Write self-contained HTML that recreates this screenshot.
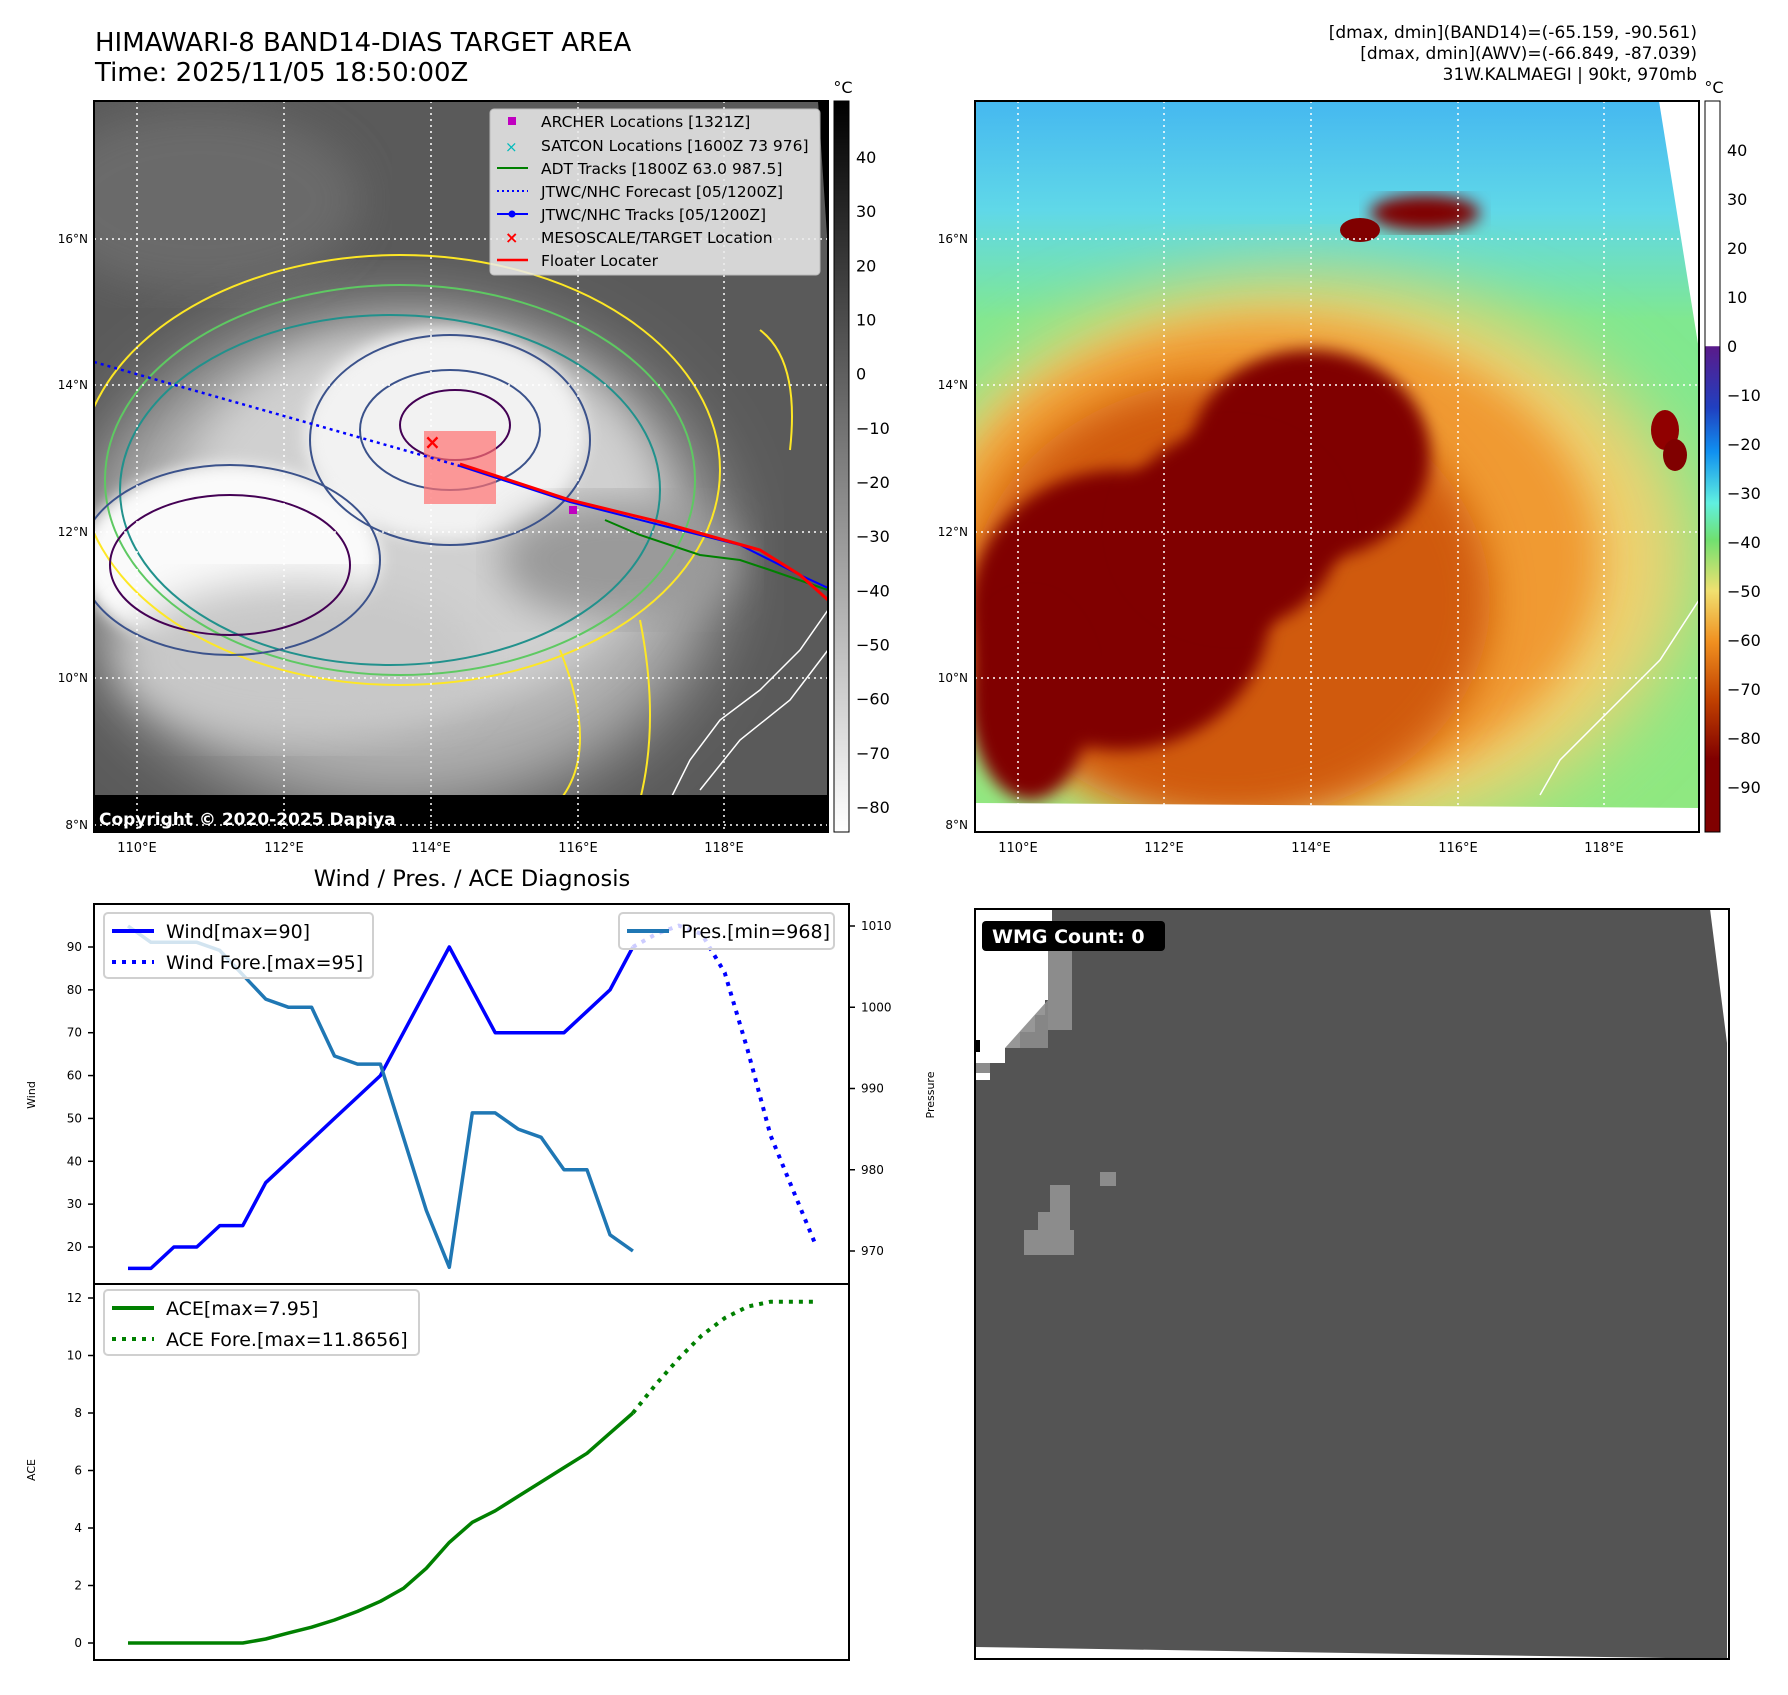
<!DOCTYPE html>
<html><head><meta charset="utf-8">
<style>
html,body{margin:0;padding:0;background:#fff;}
body{width:1788px;height:1690px;position:relative;overflow:hidden;font-family:"Liberation Sans","DejaVu Sans",sans-serif;}
svg text{font-family:"DejaVu Sans","Liberation Sans",sans-serif;}
</style></head>
<body>
<svg id="fig" width="1788" height="1690" viewBox="0 0 1788 1690" xmlns="http://www.w3.org/2000/svg">
<defs>
  <filter id="blur8"><feGaussianBlur stdDeviation="8"/></filter>
  <filter id="blur20"><feGaussianBlur stdDeviation="20"/></filter>
  <filter id="blur35"><feGaussianBlur stdDeviation="35"/></filter>
  <clipPath id="clipL"><rect x="94" y="101" width="734" height="731"/></clipPath>
  <clipPath id="clipR"><rect x="975" y="101" width="724" height="731"/></clipPath>
  <linearGradient id="cbL" x1="0" y1="0" x2="0" y2="1">
    <stop offset="0" stop-color="#000"/><stop offset="1" stop-color="#fff"/>
  </linearGradient>
  <linearGradient id="cbR" x1="0" y1="0" x2="0" y2="1">
    <stop offset="0" stop-color="#fff"/><stop offset="0.335" stop-color="#fff"/>
    <stop offset="0.336" stop-color="#5a1a8a"/><stop offset="0.42" stop-color="#2040c0"/>
    <stop offset="0.48" stop-color="#1090f0"/><stop offset="0.55" stop-color="#60f0e0"/>
    <stop offset="0.60" stop-color="#70e070"/><stop offset="0.67" stop-color="#f0e070"/>
    <stop offset="0.74" stop-color="#f09020"/><stop offset="0.82" stop-color="#c04000"/>
    <stop offset="0.90" stop-color="#800000"/><stop offset="1" stop-color="#800000"/>
  </linearGradient>
  <linearGradient id="skyR" x1="0" y1="0" x2="0" y2="1">
    <stop offset="0" stop-color="#45b8f0"/><stop offset="0.15" stop-color="#60d8e8"/>
    <stop offset="0.3" stop-color="#80e890"/><stop offset="1" stop-color="#90e880"/>
  </linearGradient>
</defs>

<!-- Titles -->
<text x="95" y="51" font-size="26" fill="#000">HIMAWARI-8 BAND14-DIAS TARGET AREA</text>
<text x="95" y="81" font-size="26" fill="#000">Time: 2025/11/05 18:50:00Z</text>
<g font-size="17" fill="#000" text-anchor="end">
  <text x="1697" y="38">[dmax, dmin](BAND14)=(-65.159, -90.561)</text>
  <text x="1697" y="59">[dmax, dmin](AWV)=(-66.849, -87.039)</text>
  <text x="1697" y="80">31W.KALMAEGI | 90kt, 970mb</text>
</g>

<!-- LEFT MAP -->
<g clip-path="url(#clipL)">
  <rect x="94" y="101" width="734" height="731" fill="#5a5a5a"/>
  <ellipse cx="200" cy="200" rx="160" ry="90" fill="#6a6a6a" filter="url(#blur20)"/>
  <ellipse cx="400" cy="560" rx="320" ry="250" fill="#b0b0b0" filter="url(#blur35)"/>
  <ellipse cx="420" cy="520" rx="240" ry="190" fill="#d0d0d0" filter="url(#blur20)"/>
  <ellipse cx="445" cy="435" rx="140" ry="105" fill="#f2f2f2" filter="url(#blur8)"/>
  <ellipse cx="230" cy="560" rx="150" ry="95" fill="#fafafa" filter="url(#blur8)"/>
  <ellipse cx="300" cy="660" rx="180" ry="80" fill="#c8c8c8" filter="url(#blur20)"/>
  <ellipse cx="620" cy="560" rx="120" ry="60" fill="#9a9a9a" filter="url(#blur20)"/>
  <!-- contours -->
  <g fill="none" stroke-width="2">
    <ellipse cx="400" cy="470" rx="320" ry="215" stroke="#fde725"/>
    <ellipse cx="400" cy="480" rx="295" ry="195" stroke="#5ec962"/>
    <ellipse cx="390" cy="490" rx="270" ry="175" stroke="#21918c"/>
    <ellipse cx="450" cy="440" rx="140" ry="105" stroke="#3b528b"/>
    <ellipse cx="450" cy="430" rx="90" ry="60" stroke="#3b528b"/>
    <ellipse cx="230" cy="560" rx="150" ry="95" stroke="#3b528b"/>
    <ellipse cx="230" cy="565" rx="120" ry="70" stroke="#440154"/>
    <ellipse cx="455" cy="425" rx="55" ry="35" stroke="#440154"/>
    <path d="M560 650 Q600 750 560 800" stroke="#fde725"/>
    <path d="M640 620 Q660 720 640 800" stroke="#fde725"/>
    <path d="M760 330 Q800 360 790 450" stroke="#fde725"/>
  </g>
  <!-- coast -->
  <path d="M828 610 L800 650 L760 690 L720 720 L690 760 L670 800" fill="none" stroke="#fff" stroke-width="1.5"/>
  <path d="M828 650 L790 700 L740 740 L700 790" fill="none" stroke="#fff" stroke-width="1.5"/>
  <!-- bottom black band and top-right black -->
  <polygon points="94,795 828,795 828,832 94,832" fill="#000"/>
  <polygon points="818,101 828,101 828,250" fill="#000"/>
  <!-- grid -->
  <g stroke="#fff" stroke-width="1.5" stroke-dasharray="2,4">
    <line x1="137" y1="101" x2="137" y2="832"/><line x1="284" y1="101" x2="284" y2="832"/>
    <line x1="431" y1="101" x2="431" y2="832"/><line x1="578" y1="101" x2="578" y2="832"/>
    <line x1="724" y1="101" x2="724" y2="832"/>
    <line x1="94" y1="239" x2="828" y2="239"/><line x1="94" y1="385" x2="828" y2="385"/>
    <line x1="94" y1="532" x2="828" y2="532"/><line x1="94" y1="678" x2="828" y2="678"/>
    <line x1="94" y1="825" x2="828" y2="825"/>
  </g>
  <!-- target box -->
  <rect x="424" y="431" width="72" height="73" fill="#ff7070" opacity="0.7"/>
  <!-- tracks -->
  <line x1="94" y1="362" x2="460" y2="466" stroke="#0000ff" stroke-width="2.5" stroke-dasharray="3,4"/>
  <polyline points="605,520 640,535 700,555 740,560 770,570 828,590" fill="none" stroke="#008000" stroke-width="2"/>
  <polyline points="460,466 570,502 660,525 740,545 800,575 828,588" fill="none" stroke="#0000ff" stroke-width="2"/>
  <polyline points="460,464 570,500 660,522 760,550 800,575 828,600" fill="none" stroke="#ff0000" stroke-width="3"/>
  <text x="424" y="449" font-size="20" fill="#ff0000" font-weight="bold">×</text>
  <rect x="569" y="506" width="8" height="8" fill="#c000c0"/>
  <!-- copyright -->
  <text x="99" y="825" font-size="17" font-weight="bold" fill="#fff">Copyright © 2020-2025 Dapiya</text>
</g>
<rect x="94" y="101" width="734" height="731" fill="none" stroke="#000" stroke-width="2"/>
<!-- left legend -->
<g>
  <rect x="490" y="109" width="330" height="166" rx="4" fill="#ececec" opacity="0.85" stroke="#ccc"/>
  <g font-size="15.5" fill="#000">
    <rect x="508" y="117" width="8" height="8" fill="#c000c0"/>
    <text x="541" y="127">ARCHER Locations [1321Z]</text>
    <text x="505" y="152" fill="#00bbbb" font-size="15">×</text>
    <text x="541" y="151">SATCON Locations [1600Z 73 976]</text>
    <line x1="497" y1="168" x2="528" y2="168" stroke="#008000" stroke-width="2"/>
    <text x="541" y="174">ADT Tracks [1800Z 63.0 987.5]</text>
    <line x1="497" y1="191" x2="528" y2="191" stroke="#0000ff" stroke-width="2" stroke-dasharray="2,3"/>
    <text x="541" y="197">JTWC/NHC Forecast [05/1200Z]</text>
    <line x1="497" y1="214" x2="528" y2="214" stroke="#0000ff" stroke-width="2"/>
    <circle cx="512" cy="214" r="3.5" fill="#0000ff"/>
    <text x="541" y="220">JTWC/NHC Tracks [05/1200Z]</text>
    <text x="505" y="243" fill="#ff0000" font-size="16" font-weight="bold">×</text>
    <text x="541" y="243">MESOSCALE/TARGET Location</text>
    <line x1="497" y1="260" x2="528" y2="260" stroke="#ff0000" stroke-width="2.5"/>
    <text x="541" y="266">Floater Locater</text>
  </g>
</g>
<!-- left axes labels -->
<g font-size="12" fill="#000">
  <text x="88" y="243" text-anchor="end">16°N</text><text x="88" y="389" text-anchor="end">14°N</text>
  <text x="88" y="536" text-anchor="end">12°N</text><text x="88" y="682" text-anchor="end">10°N</text>
  <text x="88" y="829" text-anchor="end">8°N</text>
  <g text-anchor="middle" font-size="13"><text x="137" y="852">110°E</text><text x="284" y="852">112°E</text><text x="431" y="852">114°E</text><text x="578" y="852">116°E</text><text x="724" y="852">118°E</text></g>
</g>
<!-- left colorbar -->
<g>
  <rect x="834" y="101" width="15" height="731" fill="url(#cbL)" stroke="#000"/>
  <text x="843" y="93" font-size="16" text-anchor="middle">°C</text>
  <g font-size="16" fill="#000" id="cblt"></g>
</g>

<!-- RIGHT MAP -->
<g clip-path="url(#clipR)">
  <rect x="975" y="101" width="724" height="731" fill="url(#skyR)"/>
  <ellipse cx="1300" cy="560" rx="390" ry="280" fill="#f0d070" filter="url(#blur35)"/>
  <ellipse cx="1270" cy="560" rx="330" ry="240" fill="#f09a30" filter="url(#blur20)"/>
  <ellipse cx="1230" cy="600" rx="260" ry="220" fill="#d05a10" filter="url(#blur20)"/>
  <ellipse cx="1310" cy="455" rx="120" ry="105" fill="#800000" filter="url(#blur8)"/>
  <ellipse cx="1120" cy="610" rx="150" ry="140" fill="#800000" filter="url(#blur8)"/>
  <ellipse cx="1230" cy="530" rx="110" ry="100" fill="#800000" filter="url(#blur8)"/>
  <ellipse cx="1030" cy="700" rx="60" ry="100" fill="#800000" filter="url(#blur8)"/>
  <ellipse cx="1425" cy="213" rx="55" ry="18" fill="#800000" filter="url(#blur8)"/>
  <ellipse cx="1360" cy="230" rx="20" ry="12" fill="#800000"/>
  <ellipse cx="1665" cy="430" rx="14" ry="20" fill="#900000"/>
  <ellipse cx="1675" cy="455" rx="12" ry="16" fill="#800000"/>
  <path d="M1699 600 L1660 660 L1620 700 L1560 760 L1540 795" fill="none" stroke="#fff" stroke-width="1.5"/>
  <polygon points="975,803 1699,808 1699,832 975,832" fill="#fff"/>
  <polygon points="1659,101 1699,101 1699,350" fill="#fff"/>
  <g stroke="#fff" stroke-width="1.5" stroke-dasharray="2,4">
    <line x1="1018" y1="101" x2="1018" y2="805"/><line x1="1164" y1="101" x2="1164" y2="805"/>
    <line x1="1311" y1="101" x2="1311" y2="805"/><line x1="1458" y1="101" x2="1458" y2="805"/>
    <line x1="1604" y1="101" x2="1604" y2="805"/>
    <line x1="975" y1="239" x2="1699" y2="239"/><line x1="975" y1="385" x2="1699" y2="385"/>
    <line x1="975" y1="532" x2="1699" y2="532"/><line x1="975" y1="678" x2="1699" y2="678"/>
  </g>
</g>
<rect x="975" y="101" width="724" height="731" fill="none" stroke="#000" stroke-width="2"/>
<g font-size="12" fill="#000">
  <text x="968" y="243" text-anchor="end">16°N</text><text x="968" y="389" text-anchor="end">14°N</text>
  <text x="968" y="536" text-anchor="end">12°N</text><text x="968" y="682" text-anchor="end">10°N</text>
  <text x="968" y="829" text-anchor="end">8°N</text>
  <g text-anchor="middle" font-size="13"><text x="1018" y="852">110°E</text><text x="1164" y="852">112°E</text><text x="1311" y="852">114°E</text><text x="1458" y="852">116°E</text><text x="1604" y="852">118°E</text></g>
</g>
<g>
  <rect x="1705" y="101" width="15" height="731" fill="url(#cbR)" stroke="#000"/>
  <text x="1714" y="93" font-size="16" text-anchor="middle">°C</text>
  <g font-size="16" fill="#000" id="cbrt"></g>
</g>

<!-- BOTTOM LEFT CHART -->
<text x="472" y="886" font-size="22.5" text-anchor="middle">Wind / Pres. / ACE Diagnosis</text>
<g id="chart"></g>

<!-- BOTTOM RIGHT WMG -->
<g>
  <rect x="975" y="909" width="754" height="750" fill="#fff"/>
  <polygon points="1052,909 1710,909 1727,1043 1727,1659 975,1647 975,1080 990,1080 990,1063 1005,1063 1005,1048 1020,1048 1020,1032 1035,1032 1035,1015 1045,1015 1045,1000 1052,1000" fill="#545454"/>
  <polygon points="1048,950 1072,950 1072,1030 1048,1030" fill="#8c8c8c"/>
  <polygon points="1005,1048 1048,1048 1048,1030 1062,1030 1062,1000 1048,1000" fill="#8c8c8c" opacity="0.9"/>
  <rect x="975" y="1063" width="15" height="10" fill="#8c8c8c"/>
  <rect x="1100" y="1172" width="16" height="14" fill="#8c8c8c"/>
  <rect x="1024" y="1230" width="50" height="25" fill="#8c8c8c"/>
  <rect x="1038" y="1212" width="32" height="20" fill="#8c8c8c"/>
  <rect x="1050" y="1185" width="20" height="30" fill="#8c8c8c"/>
  <rect x="975" y="1040" width="5" height="12" fill="#000"/>
  <rect x="975" y="909" width="754" height="750" fill="none" stroke="#000" stroke-width="2"/>
  <rect x="982" y="921" width="183" height="30" rx="4" fill="#000"/>
  <text x="992" y="943" font-size="19" font-weight="bold" fill="#fff">WMG Count: 0</text>
</g>
</svg>

<script>
// ---- chart data ----
const windObs = [15,15,20,20,25,25,35,40,45,50,55,60,70,80,90,80,70,70,70,70,75,80,90];
const windFore = [90,93,95,93,84,66,46,33,20];
const presObs = [1010,1008,1008,1008,1007,1004,1001,1000,1000,994,993,993,984,975,968,987,987,985,984,980,980,972,970];
const aceObs = [0,0,0,0,0,0,0.14,0.35,0.55,0.8,1.1,1.45,1.9,2.6,3.5,4.2,4.6,5.1,5.6,6.1,6.6,7.3,8.0];
const aceFore = [8.0,9.0,9.9,10.7,11.3,11.7,11.87,11.87,11.87];
const windTicks = [20,30,40,50,60,70,80,90];
const presTicks = [970,980,990,1000,1010];
const aceTicks = [0,2,4,6,8,10,12];
const cbLeftTicks = [40,30,20,10,0,-10,-20,-30,-40,-50,-60,-70,-80];
const cbRightTicks = [40,30,20,10,0,-10,-20,-30,-40,-50,-60,-70,-80,-90];

const NS='http://www.w3.org/2000/svg';
function mk(tag, attrs, parent){const e=document.createElementNS(NS,tag);for(const k in attrs)e.setAttribute(k,attrs[k]);parent.appendChild(e);return e;}

// axis functions
const X0=94, X1=849, TOP=904, MID=1284, BOT=1660;
const xIdx = i => 128 + i*22.95;
const yWind = v => 947 + (90-v)*(1247-947)/70;
const yPres = v => 926 + (1010-v)*(1251-926)/40;
const yAce = v => 1643 - v*(1643-1298)/12;
const yCbL = v => 157 + (40-v)*(807-157)/120;
const yCbR = v => 150 + (40-v)*(787-150)/130;

// colorbar ticks
const gl=document.getElementById('cblt');
cbLeftTicks.forEach(v=>{
  const t=mk('text',{x:856,y:yCbL(v)+6},gl); t.textContent=(v<0?'\u2212'+(-v):v);
  
  
});
const gr=document.getElementById('cbrt');
cbRightTicks.forEach(v=>{
  const t=mk('text',{x:1727,y:yCbR(v)+6},gr); t.textContent=(v<0?'\u2212'+(-v):v);
  
  
});

const g=document.getElementById('chart');
function pts(arr, off, yf){return arr.map((v,i)=>xIdx(i+off).toFixed(1)+','+yf(v).toFixed(1)).join(' ');}

windTicks.forEach(v=>{
  mk('line',{x1:X0-6,x2:X0,y1:yWind(v),y2:yWind(v),stroke:'#000','stroke-width':1.5},g);
  const t=mk('text',{x:X0-12,y:yWind(v)+4,'font-size':12,'text-anchor':'end'},g); t.textContent=v;
  
  
});
presTicks.forEach(v=>{
  mk('line',{x1:X1,x2:X1+6,y1:yPres(v),y2:yPres(v),stroke:'#000','stroke-width':1.5},g);
  const t=mk('text',{x:X1+12,y:yPres(v)+4,'font-size':12},g); t.textContent=v;
  
  
});
aceTicks.forEach(v=>{
  mk('line',{x1:X0-6,x2:X0,y1:yAce(v),y2:yAce(v),stroke:'#000','stroke-width':1.5},g);
  const t=mk('text',{x:X0-12,y:yAce(v)+4,'font-size':12,'text-anchor':'end'},g); t.textContent=v;
  
  
});
let yl=mk('text',{x:0,y:0,'font-size':11,'text-anchor':'middle',transform:'translate(35,1095) rotate(-90)'},g); yl.textContent='Wind';


yl=mk('text',{x:0,y:0,'font-size':11,'text-anchor':'middle',transform:'translate(934,1095) rotate(-90)'},g); yl.textContent='Pressure';


yl=mk('text',{x:0,y:0,'font-size':11,'text-anchor':'middle',transform:'translate(35,1470) rotate(-90)'},g); yl.textContent='ACE';



let l;
l=mk('polyline',{points:pts(windObs,0,yWind),fill:'none',stroke:'#0000ff','stroke-width':3.5,'stroke-linejoin':'round'},g);


l=mk('polyline',{points:pts(windFore,22,yWind),fill:'none',stroke:'#0000ff','stroke-width':4,'stroke-dasharray':'4,6'},g);


l=mk('polyline',{points:pts(presObs,0,yPres),fill:'none',stroke:'#1f77b4','stroke-width':3.5,'stroke-linejoin':'round'},g);


l=mk('polyline',{points:pts(aceObs,0,yAce),fill:'none',stroke:'#008000','stroke-width':3.5,'stroke-linejoin':'round'},g);


l=mk('polyline',{points:pts(aceFore,22,yAce),fill:'none',stroke:'#008000','stroke-width':4,'stroke-dasharray':'4,6'},g);



mk('rect',{x:X0,y:TOP,width:X1-X0,height:MID-TOP,fill:'none',stroke:'#000','stroke-width':2},g);
mk('rect',{x:X0,y:MID,width:X1-X0,height:BOT-MID,fill:'none',stroke:'#000','stroke-width':2},g);

function legend(x,y,w,h,items,name){
  const lg=mk('g',{},g);
  
  
  mk('rect',{x:x,y:y,width:w,height:h,rx:4,fill:'#fff','fill-opacity':0.8,stroke:'#d0d0d0','stroke-width':2},lg);
  items.forEach((it,i)=>{
    const yy=y+18+i*31;
    mk('line',{x1:x+8,x2:x+50,y1:yy,y2:yy,stroke:it.c,'stroke-width':4,'stroke-dasharray':it.d?'4,6':'none'},lg);
    const t=mk('text',{x:x+62,y:yy+7,'font-size':19},lg); t.textContent=it.t;
  });
}
legend(104,913,269,65,[{c:'#0000ff',t:'Wind[max=90]'},{c:'#0000ff',t:'Wind Fore.[max=95]',d:1}],'wind-legend');
legend(619,913,215,36,[{c:'#1f77b4',t:'Pres.[min=968]'}],'pressure-legend');
legend(104,1290,315,65,[{c:'#008000',t:'ACE[max=7.95]'},{c:'#008000',t:'ACE Fore.[max=11.8656]',d:1}],'ace-legend');
</script>
</body></html>
